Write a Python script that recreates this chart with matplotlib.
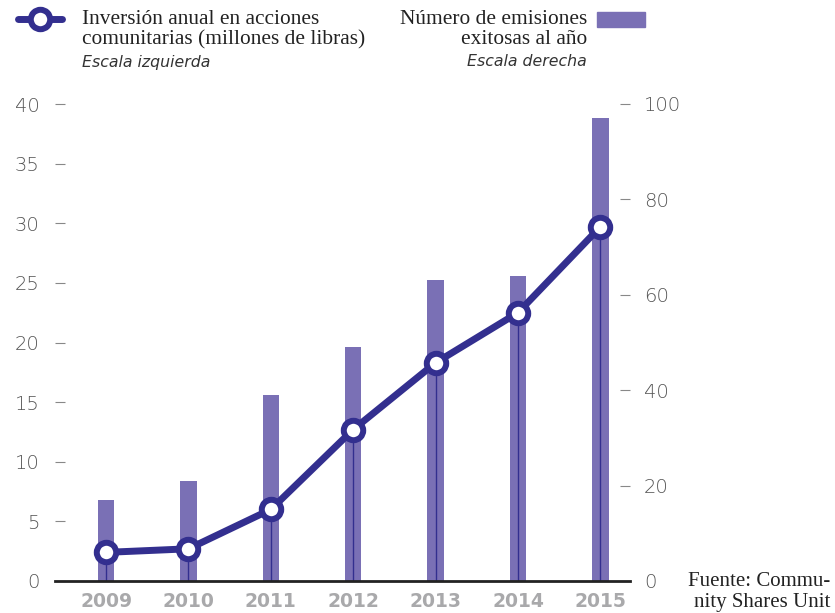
import matplotlib
matplotlib.use("Agg")
import matplotlib.pyplot as plt
from matplotlib.lines import Line2D
from matplotlib.patches import Rectangle

# Data
years = [2009, 2010, 2011, 2012, 2013, 2014, 2015]
inversion = [2.4, 2.7, 6.0, 12.7, 18.3, 22.5, 29.7]   # millones de libras (escala izquierda)
emisiones = [17, 21, 39, 49, 63, 64, 97]              # número de emisiones (escala derecha)
left_ticks = [0, 5, 10, 15, 20, 25, 30, 35, 40]
right_ticks = [0, 20, 40, 60, 80, 100]

line_color = "#332f8f"
bar_color = "#7a70b5"
tick_text = "#555555"
serif = "Liberation Serif"
W, H = 835, 613

fig = plt.figure(figsize=(W / 100, H / 100), dpi=100)
ax = fig.add_axes([55 / W, (H - 581) / H, 575 / W, 477 / H])
ax2 = ax.twinx()

# bars on the right scale, behind the line
ax2.bar(years, emisiones, width=0.2, color=bar_color, zorder=1)
ax2.set_ylim(0, 100)
ax2.set_yticks(right_ticks)

# line on the left scale
ax.set_zorder(ax2.get_zorder() + 1)
ax.patch.set_visible(False)
ax.vlines(years, 0, inversion, color=line_color, linewidth=1, zorder=2)
ax.plot(years, inversion, color=line_color, linewidth=5, marker="o",
        markersize=14, markerfacecolor="white", markeredgecolor=line_color,
        markeredgewidth=4.3, zorder=3, solid_capstyle="round")
ax.set_ylim(0, 40)
ax.set_yticks(left_ticks)
ax.set_xlim(2008.38, 2015.36)
ax.set_xticks(years)

for a in (ax, ax2):
    for s in a.spines.values():
        s.set_visible(False)
ax.spines["bottom"].set_visible(True)
ax.spines["bottom"].set_linewidth(2)
ax.spines["bottom"].set_color("#222222")

ax.tick_params(axis="y", direction="in", length=7, width=0.8, color="#888888",
               labelsize=14, labelcolor=tick_text, pad=11)
ax2.tick_params(axis="y", direction="in", length=7, width=0.8, color="#888888",
                labelsize=14, labelcolor=tick_text, pad=10)
ax.tick_params(axis="x", length=0, labelsize=13.5, labelcolor="#a9a9ab", pad=8)
for lbl in ax.get_yticklabels() + ax2.get_yticklabels():
    lbl.set_family("DejaVu Sans")
    lbl.set_fontweight("light")
for lbl in ax.get_xticklabels():
    lbl.set_family("DejaVu Sans")
    lbl.set_fontweight("bold")

# legend drawn by hand at the top
def fx(px):
    return px / W

def fy(py):
    return 1 - py / H

fig.add_artist(Line2D([fx(18), fx(62)], [fy(19), fy(19)], color=line_color,
                      linewidth=5, solid_capstyle="round"))
fig.add_artist(Line2D([fx(40)], [fy(19)], marker="o", markersize=14,
                      markerfacecolor="white", markeredgecolor=line_color,
                      markeredgewidth=4.3))
fig.text(fx(82), fy(19), "Inversión anual en acciones", family=serif,
         fontsize=15.4, color="#222222", va="center")
fig.text(fx(82), fy(40), "comunitarias (millones de libras)", family=serif,
         fontsize=15.4, color="#222222", va="center")
fig.text(fx(82), fy(62), "Escala izquierda", family="DejaVu Sans", style="italic",
         fontsize=11.3, color="#333333", va="center")

fig.text(fx(587), fy(19), "Número de emisiones", family=serif,
         fontsize=15.4, color="#222222", va="center", ha="right")
fig.text(fx(587), fy(40), "exitosas al año", family=serif,
         fontsize=15.4, color="#222222", va="center", ha="right")
fig.text(fx(587), fy(62), "Escala derecha", family="DejaVu Sans", style="italic",
         fontsize=11.3, color="#333333", va="center", ha="right")
fig.add_artist(Rectangle((fx(597), fy(27)), fx(48), 15 / H, color=bar_color))

fig.text(fx(830), fy(582), "Fuente: Commu-", family=serif,
         fontsize=15, color="#222222", va="center", ha="right")
fig.text(fx(830), fy(602), "nity Shares Unit", family=serif,
         fontsize=15, color="#222222", va="center", ha="right")

fig.savefig("out.png", dpi=100)
